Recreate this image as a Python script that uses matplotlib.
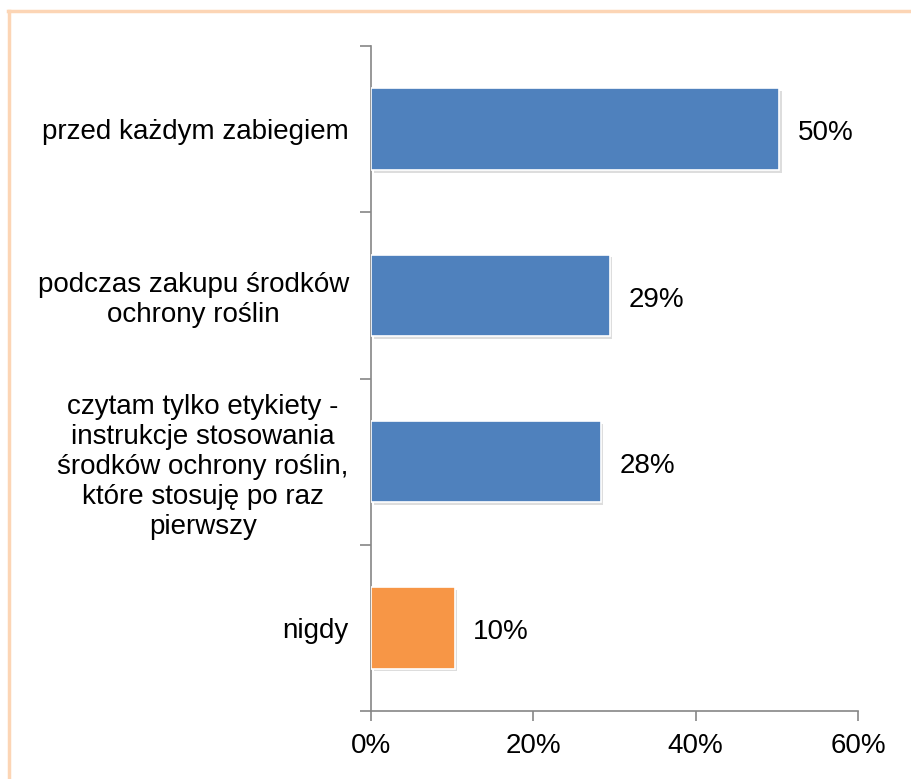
import matplotlib.pyplot as plt
import matplotlib.patheffects as pe
from matplotlib.lines import Line2D
import numpy as np

plt.rcParams['font.family'] = ['Liberation Sans', 'DejaVu Sans']

# data (top to bottom)
categories = [
    "przed każdym zabiegiem",
    "podczas zakupu środków\nochrony roślin",
    "czytam tylko etykiety -\ninstrukcje stosowania\nśrodków ochrony roślin,\nktóre stosuję po raz\npierwszy",
    "nigdy",
]
values = [50.3, 29.4, 28.3, 10.3]
labels = ["50%", "29%", "28%", "10%"]
colors = ["#4F81BD", "#4F81BD", "#4F81BD", "#F79646"]
xticks = [0, 20, 40, 60]

fig = plt.figure(figsize=(9.12, 7.79), dpi=100)
ax = fig.add_axes([371/912, 68/779, 487/912, 665/779])

n = len(categories)
ypos = np.arange(n)[::-1]  # first category at top
bars = ax.barh(ypos, values, height=0.49, color=colors, edgecolor="white",
               linewidth=1.2, zorder=3)
for b in bars:
    b.set_path_effects([pe.SimplePatchShadow(offset=(2, -2), alpha=0.18,
                                             shadow_rgbFace="#444444"),
                        pe.Normal()])

for y, v, lab in zip(ypos, values, labels):
    ax.text(v + 2.3, y - 0.025, lab, va="center", ha="left", fontsize=20)

ax.set_xlim(0, 60)
ax.set_ylim(-0.5, n - 0.5)
ax.set_xticks(xticks)
ax.set_xticklabels([f"{t}%" for t in xticks], fontsize=20)

# boundaries as major ticks, labels at centers
ax.set_yticks(np.arange(-0.5, n, 1.0))
ax.set_yticklabels([])
ax.set_yticks(ypos, minor=True)
ax.set_yticklabels(categories, minor=True, fontsize=20, multialignment="center",
                   linespacing=1.2)
ax.tick_params(axis="y", which="minor", length=0, pad=16)
ax.tick_params(axis="y", which="major", length=8, width=1.2, color="#868686")
ax.tick_params(axis="x", length=7, width=1.2, color="#868686", pad=9)

for s in ["top", "right"]:
    ax.spines[s].set_visible(False)
for s in ["left", "bottom"]:
    ax.spines[s].set_color("#868686")
    ax.spines[s].set_linewidth(1.2)

# peach frame (left and top edges visible)
fw, fh = 912, 779
fig.add_artist(Line2D([9.5/fw, 9.5/fw], [0, 1 - 10.5/fh], transform=fig.transFigure,
                      color="#FCD5B5", linewidth=2.5))
fig.add_artist(Line2D([8.5/fw, 1], [1 - 10.5/fh, 1 - 10.5/fh], transform=fig.transFigure,
                      color="#FCD5B5", linewidth=2.5))

fig.savefig("out.png", dpi=100)
